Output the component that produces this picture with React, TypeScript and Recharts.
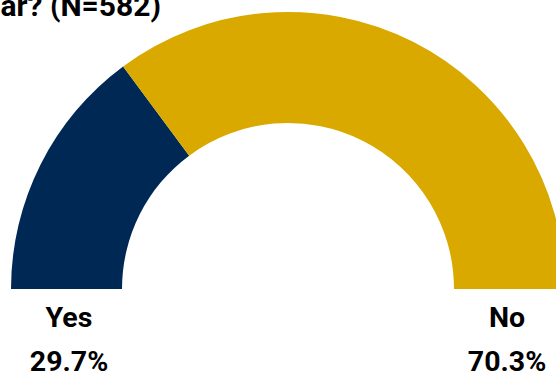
import React from "react";
import { PieChart, Pie, Cell } from "recharts";

const categories = ["Yes", "No"];
const values = [29.7, 70.3];
const colors = ["#002855", "#D9A900"];
const titleText = "ar? (N=582)";

const data = categories.map((name, i) => ({ name, value: values[i] }));

const FONT = "Roboto, 'Noto Sans', sans-serif";

export default function App() {
  return (
    <div style={{ position: "absolute", left: 0, top: 0, width: 556, height: 372, overflow: "hidden", background: "#fff" }}>
      <PieChart width={556} height={372} margin={{ top: 0, right: 0, bottom: 0, left: 0 }}>
        <Pie
          data={data}
          dataKey="value"
          nameKey="name"
          cx={288}
          cy={289}
          innerRadius={166}
          outerRadius={277}
          startAngle={180}
          endAngle={0}
          stroke="none"
          isAnimationActive={false}
        >
          {data.map((d, i) => (
            <Cell key={d.name} fill={colors[i]} />
          ))}
        </Pie>
        <text x={161} y={16} textAnchor="end" fontFamily={FONT} fontWeight={700} fontSize={30} fill="#000">
          {titleText}
        </text>
        {data.map((d, i) => {
          const x = i === 0 ? 69 : 507;
          return (
            <g key={d.name}>
              <text x={x} y={327} textAnchor="middle" fontFamily={FONT} fontWeight={700} fontSize={28.5} fill="#000">
                {d.name}
              </text>
              <text x={x} y={371} textAnchor="middle" fontFamily={FONT} fontWeight={700} fontSize={28.5} fill="#000">
                {d.value.toFixed(1)}%
              </text>
            </g>
          );
        })}
      </PieChart>
    </div>
  );
}
